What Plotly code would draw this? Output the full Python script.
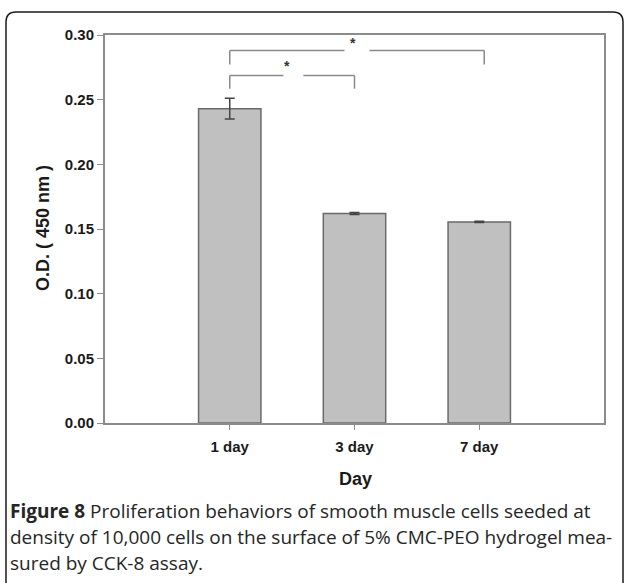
import plotly.graph_objects as go

# ---- data ----
categories = ["1 day", "3 day", "7 day"]
od_values = [0.243, 0.162, 0.1555]
od_errors = [0.008, 0.0008, 0.0004]
y_ticks = [0.00, 0.05, 0.10, 0.15, 0.20, 0.25, 0.30]
y_ticklabels = ["0.00", "0.05", "0.10", "0.15", "0.20", "0.25", "0.30"]
# significance brackets: (left idx, right idx, bar y, leg bottom y, gap start, gap end, star x, star y)
brackets = [
    (0, 1.0, 0.2686, 0.2585, 0.43, 0.59, 0.46, 0.2764),
    (0, 2.04, 0.2880, 0.2771, 0.92, 1.12, 0.99, 0.2942),
]
caption_lines = [
    "<b>Figure 8</b> Proliferation behaviors of smooth muscle cells seeded at",
    "density of 10,000 cells on the surface of 5% CMC-PEO hydrogel mea-",
    "sured by CCK-8 assay.",
]

W, H = 624, 583
ML, MR, MT, MB = 105, 20, 35, 160
PW, PH = W - ML - MR, H - MT - MB


def px(x):
    return (x - ML) / PW


def py(y):
    return (H - MB - y) / PH


x_idx = list(range(len(categories)))

fig = go.Figure()
fig.add_trace(go.Bar(
    x=x_idx, y=od_values, width=0.5,
    marker=dict(color="#c0c0c0", line=dict(color="#6a6a6a", width=1.5)),
    error_y=dict(type="data", array=od_errors, visible=True,
                 color="#444444", thickness=1.5, width=5),
    showlegend=False, hoverinfo="skip",
))

shapes = []
annotations = []
bcol = "#8a8a8a"
for (l, r, yb, yl, g0, g1, sx, sy) in brackets:
    shapes += [
        dict(type="line", xref="x", yref="y", x0=l, x1=l, y0=yl, y1=yb, line=dict(color=bcol, width=1.5)),
        dict(type="line", xref="x", yref="y", x0=l, x1=g0, y0=yb, y1=yb, line=dict(color=bcol, width=1.5)),
        dict(type="line", xref="x", yref="y", x0=g1, x1=r, y0=yb, y1=yb, line=dict(color=bcol, width=1.5)),
        dict(type="line", xref="x", yref="y", x0=r, x1=r, y0=yb, y1=yl, line=dict(color=bcol, width=1.5)),
    ]
    annotations.append(dict(x=sx, y=sy, xref="x", yref="y", text="<b>*</b>", showarrow=False,
                            xanchor="center", yanchor="middle",
                            font=dict(family="Liberation Sans", size=14, color="#333333")))

# rounded outer frame
L, T, R, B, rad = 6, 12, 623, 600, 10
path = (f"M {px(L)} {py(B)} L {px(L)} {py(T+rad)} Q {px(L)} {py(T)} {px(L+rad)} {py(T)} "
        f"L {px(R-rad)} {py(T)} Q {px(R)} {py(T)} {px(R)} {py(T+rad)} L {px(R)} {py(B)}")
shapes.append(dict(type="path", xref="paper", yref="paper", path=path,
                   line=dict(color="#1a1a1a", width=1.5)))

# axis titles
annotations.append(dict(x=px(43), y=py(228), xref="paper", yref="paper", text="<b>O.D. ( 450 nm )</b>",
                        textangle=-90, showarrow=False, xanchor="center", yanchor="middle",
                        font=dict(family="Liberation Sans", size=18, color="#1a1a1a")))
annotations.append(dict(x=px(355), y=py(479), xref="paper", yref="paper", text="<b>Day</b>",
                        showarrow=False, xanchor="center", yanchor="middle",
                        font=dict(family="Liberation Sans", size=18, color="#1a1a1a")))

# caption
for i, line in enumerate(caption_lines):
    annotations.append(dict(x=px(8), y=py(511 + 26 * i), xref="paper", yref="paper", text=line,
                            xanchor="left", yanchor="middle", showarrow=False, align="left",
                            font=dict(family="Open Sans", size=19, color="#262626")))

axis_col = "#8c8c8c"
fig.update_layout(
    width=W, height=H,
    margin=dict(l=ML, r=MR, t=MT, b=MB, pad=0),
    paper_bgcolor="white", plot_bgcolor="white",
    xaxis=dict(range=[-1, 3], tickvals=x_idx, ticktext=[f"<b>{c}</b>" for c in categories],
               showgrid=False, zeroline=False, showline=True, linecolor=axis_col, linewidth=2,
               mirror=True, ticks="outside", ticklen=5, tickcolor=axis_col, tickwidth=1,
               ticklabelstandoff=4,
               tickfont=dict(family="Liberation Sans", size=15, color="#1a1a1a")),
    yaxis=dict(range=[0, 0.30], tickvals=y_ticks, ticktext=[f"<b>{t}</b>" for t in y_ticklabels],
               showgrid=False, zeroline=False, showline=True, linecolor=axis_col, linewidth=2,
               mirror=True, ticks="outside", ticklen=6, tickcolor=axis_col, tickwidth=1,
               tickfont=dict(family="Liberation Sans", size=15, color="#1a1a1a")),
    shapes=shapes, annotations=annotations,
)
fig.write_html("out.html", config={"displayModeBar": False},
               post_script="document.body.style.margin='0';document.body.style.overflow='hidden';")
